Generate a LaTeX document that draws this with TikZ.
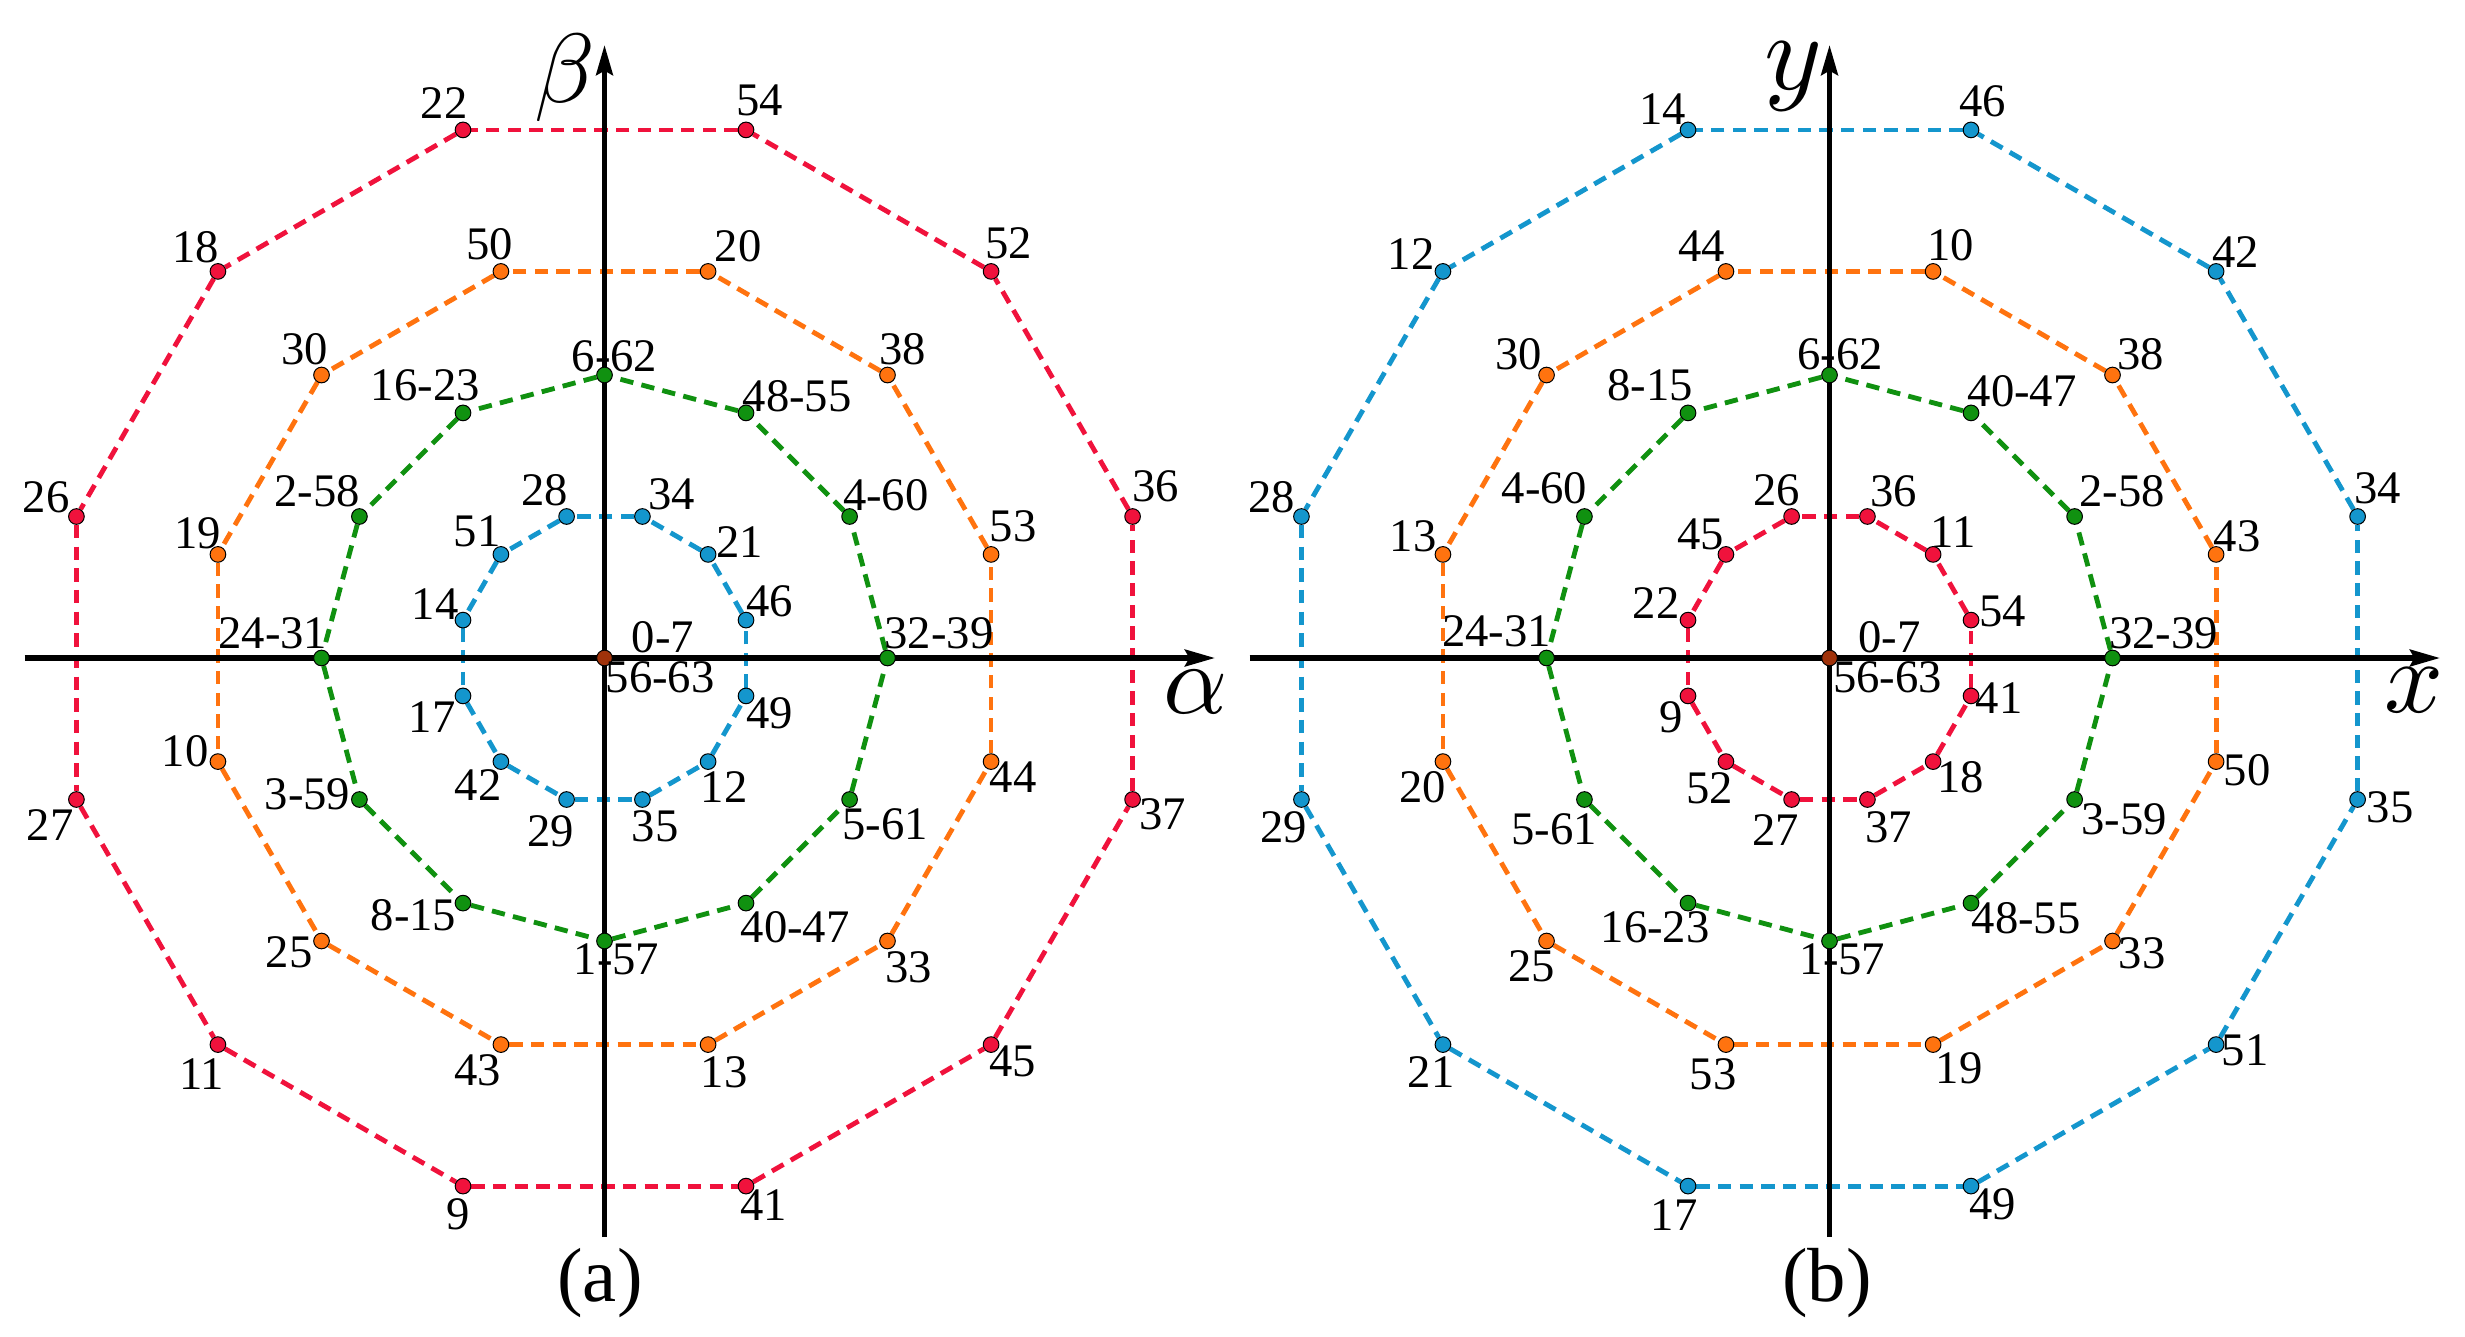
\documentclass[tikz,border=0pt]{standalone}
\usepackage{fontspec}
\setmainfont{Liberation Serif}
\usepackage{graphicx}
\usetikzlibrary{arrows.meta,calc}
\pgfdeclarelayer{lines}
\pgfdeclarelayer{axes}
\pgfsetlayers{lines,axes,main}
\definecolor{cred}{RGB}{240,18,60}
\definecolor{corange}{RGB}{255,115,15}
\definecolor{cgreen}{RGB}{16,145,16}
\definecolor{cblue}{RGB}{20,150,205}
\definecolor{cbrown}{RGB}{160,50,10}
\tikzset{
  vdot/.style={circle, inner sep=0pt, minimum size=4.7pt, draw=black, line width=0.3pt, fill=#1},
  lab/.style={inner sep=0pt, font=\fontsize{14}{14}\selectfont},
  ringline/.style={draw=#1, line width=1.45pt, dash pattern=on 4pt off 2.5pt},
  axisline/.style={line width=1.6pt, -{Stealth[length=9pt,width=5pt,inset=1.3pt]}},
  axlab/.style={inner sep=0pt},
  panlab/.style={inner sep=0pt, font=\fontsize{23}{23}\selectfont},
}
% #1 prefix, #2 radius, #3 start angle, #4 colour, #5 list label/dx/dy
\newcommand{\vring}[5]{%
  \foreach \lbl/\ddx/\ddy [count=\k from 0] in {#5} {
    \node[vdot=#4] (#1\k) at ({#3+30*\k}:#2) {};
    \node[lab] (#1\k-l) at ($(#1\k)+(\ddx,\ddy)$) {\lbl};
  }
  \begin{pgfonlayer}{lines}
    \foreach \k in {0,...,11} {
      \pgfmathtruncatemacro{\nxt}{mod(\k+1,12)}
      \draw[ringline=#4] (#1\k) -- (#1\nxt);
    }
  \end{pgfonlayer}
}
\begin{document}
\begin{tikzpicture}[x=0.3pt,y=0.3pt]
\useasboundingbox (0,0) rectangle (2465,1336);

% ---------------- panel (a) ----------------
\begin{scope}[shift={(604.5,678)}]
  \coordinate (Axl) at (-580,0);
  \coordinate (Axr) at (610.5,0);
  \coordinate (Ayb) at (0,-579);
  \coordinate (Ayt) at (0,613);
  \begin{pgfonlayer}{axes}
    \draw[axisline] (Axl) -- (Axr);
    \draw[axisline] (Ayb) -- (Ayt);
  \end{pgfonlayer}
  \vring{Ab}{146.5}{15}{cblue}{46/23.7/18.4, 21/31.4/12.8, 34/29.2/22.3, 28/-21.8/26.5, 51/-23.8/23.5, 14/-27.7/16.3, 17/-30.9/-20.7, 42/-22.6/-23.7, 29/-15.8/-31.5, 35/12.9/-27.2, 12/16.1/-25.9, 49/23.7/-17.3}
  \vring{Ag}{283}{0}{cgreen}{32-39/51.5/24.4, 4-60/36.2/21.4, 48-55/51.1/17.1, 6-62/10/18.4, 16-23/-37.6/27.8, 2-58/-42/25.7, 24-31/-48.7/24.4, 3-59/-51.9/5.2, 8-15/-49.5/-11.7, 1-57/12/-18.1, 40-47/49.1/-24.6, 5-61/35.4/-25}
  \vring{Ao}{400.2}{15}{corange}{53/22.1/27.8, 38/14.9/25.7, 20/30.2/24.8, 50/-11.1/27, 30/-17/25.7, 19/-20.2/21.4, 10/-32.9/9.9, 25/-32.5/-11.7, 43/-23/-25.5, 13/16.1/-27.6, 33/20.9/-25.9, 44/22.1/-15.1}
  \vring{Ar}{546.7}{15}{cred}{36/22.9/30, 52/17.3/28.2, 54/13.7/29.1, 22/-19/27, 18/-22.2/24, 26/-30.1/19.3, 27/-26.1/-25.9, 11/-16.2/-29.8, 9/-5.1/-28.1, 41/17.7/-19.4, 45/21.3/-16.8, 37/30.2/-15.1}
  \node[vdot=cbrown] (Ac) at (0,0) {};
  \node[lab] (Ac-l1) at (58.5,20.5) {0-7};
  \node[lab] (Ac-l2) at (55.6,-19.5) {56-63};
  \node[axlab] (Aalpha) at (591.5,-34) {\scalebox{3}{$\alpha$}};
  \node[axlab] (Abeta) at (-39.5,580.5) {\scalebox{2.95}{$\beta$}};
  \node[panlab] (Apan) at (-4.5,-625) {(a)};
\end{scope}

% ---------------- panel (b) ----------------
\begin{scope}[shift={(1829.5,678)}]
  \coordinate (Bxl) at (-580,0);
  \coordinate (Bxr) at (610.5,0);
  \coordinate (Byb) at (0,-579);
  \coordinate (Byt) at (0,613);
  \begin{pgfonlayer}{axes}
    \draw[axisline] (Bxl) -- (Bxr);
    \draw[axisline] (Byb) -- (Byt);
  \end{pgfonlayer}
  \vring{Br}{146.5}{15}{cred}{54/31.8/9, 11/20.1/22.7, 36/26.1/25.7, 26/-15/26.5, 45/-25.3/20.5, 22/-31.7/17.5, 9/-17/-21.6, 52/-16.6/-26.8, 27/-16.2/-30.2, 37/21.1/-28.1, 18/27.4/-16, 41/28.2/-2.2}
  \vring{Bg}{283}{0}{cgreen}{32-39/51.1/24.4, 2-58/47.5/25.7, 40-47/51.1/21.4, 6-62/10.5/20.5, 8-15/-37.6/27.8, 4-60/-40/27.8, 24-31/-49.9/26.5, 5-61/-30.1/-29.3, 16-23/-32.9/-23.7, 1-57/13/-18.1, 48-55/55.1/-15.1, 3-59/49.5/-19.4}
  \vring{Bo}{400.2}{15}{corange}{43/20.9/18.4, 38/28.2/20.5, 10/17.3/26.1, 44/-24.5/24.8, 30/-28.1/20.5, 13/-29.7/18.4, 20/-20.2/-25.5, 25/-15/-25.5, 53/-12.7/-29.8, 19/26.1/-23.3, 33/29.8/-12.1, 50/31/-8.2}
  \vring{Bb}{546.7}{15}{cblue}{34/20.1/27.8, 42/19.7/19.7, 46/11.7/29.1, 14/-25.7/20.5, 12/-31.7/17.5, 28/-29.7/19.3, 29/-17.8/-28.1, 21/-11.9/-27.6, 17/-13.9/-28.9, 49/21.7/-18.1, 51/29/-6, 35/32.6/-8.2}
  \node[vdot=cbrown] (Bc) at (0,0) {};
  \node[lab] (Bc-l1) at (59.8,21) {0-7};
  \node[lab] (Bc-l2) at (58.2,-19) {56-63};
  \node[axlab] (Bx) at (584.5,-32) {\scalebox{3.1}{$x$}};
  \node[axlab] (By) at (-36.5,581) {\scalebox{3.3}{$y$}};
  \node[panlab] (Bpan) at (-2.5,-625) {(b)};
\end{scope}
\end{tikzpicture}
\end{document}
